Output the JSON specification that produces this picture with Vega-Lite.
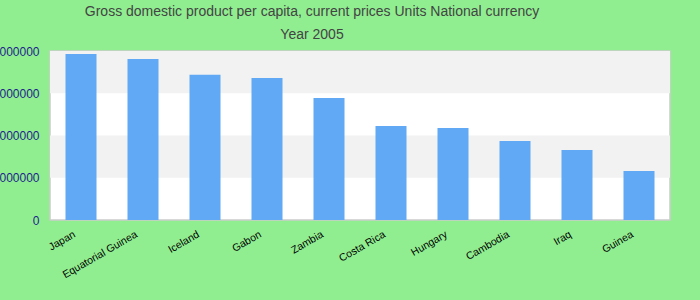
{
  "$schema": "https://vega.github.io/schema/vega-lite/v6.json",
  "autosize": {"type": "none"},
  "width": 620,
  "height": 169,
  "padding": {"left": 50, "top": 51, "right": 30, "bottom": 80},
  "background": "#90EE90",
  "title": {
    "text": ["Gross domestic product per capita, current prices Units National currency", "Year 2005"],
    "anchor": "middle",
    "dx": -48,
    "offset": 3,
    "font": "Liberation Sans",
    "fontSize": 14,
    "fontWeight": "normal",
    "lineHeight": 23,
    "color": "#444444"
  },
  "config": {
    "view": {"stroke": "#cccccc", "strokeWidth": 1.5, "fill": "#ffffff"},
    "font": "Liberation Sans"
  },
  "datasets": {
    "gdp": [
      {"country": "Japan", "value": 3929000},
      {"country": "Equatorial Guinea", "value": 3811000},
      {"country": "Iceland", "value": 3439000},
      {"country": "Gabon", "value": 3361000},
      {"country": "Zambia", "value": 2888000},
      {"country": "Costa Rica", "value": 2225000},
      {"country": "Hungary", "value": 2178000},
      {"country": "Cambodia", "value": 1870000},
      {"country": "Iraq", "value": 1657000},
      {"country": "Guinea", "value": 1160000}
    ],
    "bands": [
      {"lo": 3000000, "hi": 4000000},
      {"lo": 1000000, "hi": 2000000}
    ]
  },
  "layer": [
    {
      "data": {"name": "bands"},
      "mark": {"type": "rect", "fill": "#f2f2f2"},
      "encoding": {
        "y": {"field": "lo", "type": "quantitative", "scale": {"domain": [0, 4000000], "nice": false}},
        "y2": {"field": "hi"}
      }
    },
    {
      "data": {"name": "gdp"},
      "mark": {"type": "bar", "color": "#61a9f5"},
      "encoding": {
        "x": {
          "field": "country",
          "type": "nominal",
          "sort": null,
          "scale": {"paddingInner": 0.5, "paddingOuter": 0.25},
          "axis": {
            "title": null,
            "labelAngle": -30,
            "labelAlign": "right",
            "labelBaseline": "top",
            "labelFontSize": 10.5,
            "labelColor": "#000000",
            "labelPadding": 9,
            "labelOffset": -9,
            "ticks": false,
            "domain": false
          }
        },
        "y": {
          "field": "value",
          "type": "quantitative",
          "scale": {"domain": [0, 4000000], "nice": false},
          "axis": {
            "title": null,
            "values": [0, 1000000, 2000000, 3000000, 4000000],
            "format": "d",
            "grid": false,
            "ticks": false,
            "domain": false,
            "labelFontSize": 12,
            "labelColor": "#1e1e8c",
            "labelPadding": 11
          }
        }
      }
    }
  ]
}
